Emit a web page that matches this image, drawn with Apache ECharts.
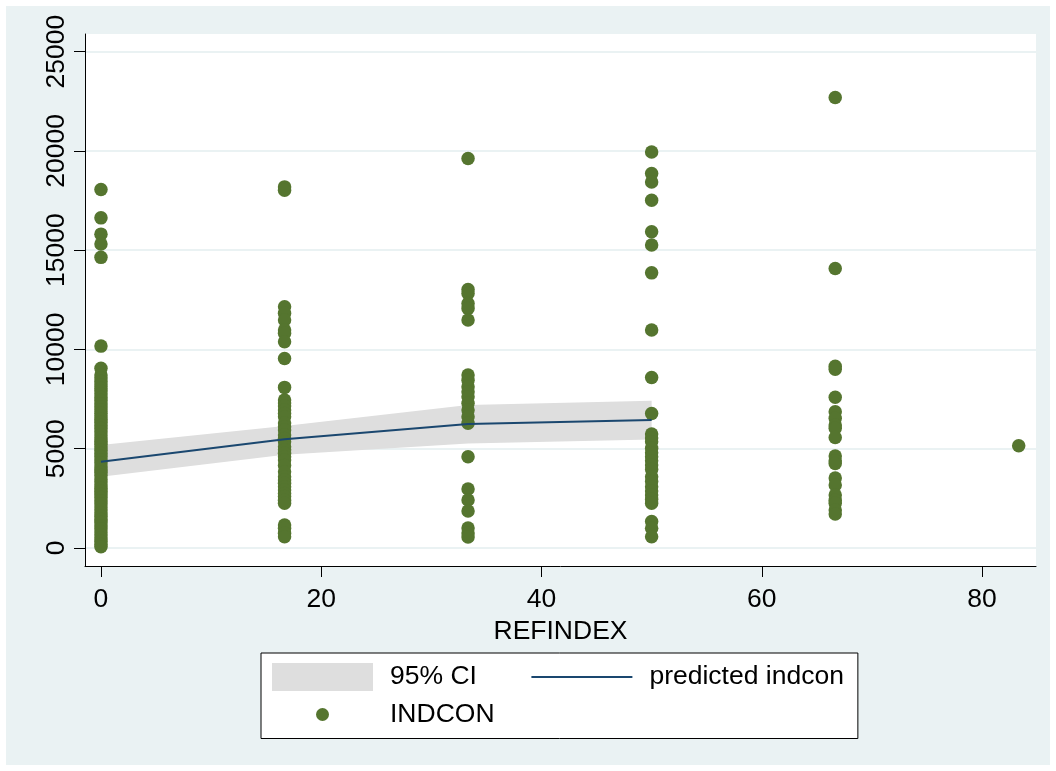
<!DOCTYPE html>
<html>
<head>
<meta charset="utf-8">
<script src="https://cdn.jsdelivr.net/npm/echarts@6/dist/echarts.min.js"></script>
<style>
  html, body { margin: 0; padding: 0; background: #fff; }
  #chart { position: absolute; left: 6px; top: 6px; width: 1044px; height: 759px; }
</style>
</head>
<body>
<div id="chart"></div>
<script>
// REFINDEX levels and the INDCON values observed at each level
const refLevels = [0, 16.67, 33.33, 50, 66.67, 83.33];
const indcon0 = [18060, 16630, 15810, 15310, 14640, 10170, 9050, 8710, 8560, 8390, 8220, 8040, 7910, 7760,
  7580, 7430, 7270, 7120, 6960, 6790, 6650, 6480, 6330, 6170, 6020, 5860, 5690, 5540, 5380, 5230, 5090,
  4920, 4760, 4610, 4450, 4290, 4130, 3960, 3810, 3650, 3480, 3330, 3170, 3010, 2860, 2700, 2540, 2380,
  2230, 2070, 1910, 1760, 1600, 1440, 1290, 1120, 970, 810, 650, 500, 340, 180, 60];
const indcon17 = [18190, 18020, 12150, 11830, 11480, 10980, 10820, 10390, 9550, 8090, 7450, 7300, 7150,
  6950, 6780, 6610, 6300, 6110, 5940, 5690, 5520, 5350, 5100, 4950, 4770, 4600, 4430, 4150, 3840, 3590,
  3420, 3260, 3090, 2920, 2750, 2590, 2400, 2250, 1160, 990, 740, 570];
const indcon33 = [19620, 13020, 12820, 12320, 12070, 11480, 8710, 8450, 8120, 7870, 7620, 7290, 6950,
  6610, 6280, 4600, 2970, 2420, 1860, 1010, 760, 560];
const indcon50 = [19950, 18860, 18440, 17520, 15930, 15260, 13860, 10980, 8590, 6780, 5740, 5540, 5350,
  5020, 4800, 4600, 4400, 4180, 3950, 3590, 3350, 3090, 2870, 2670, 2450, 2250, 1330, 1000, 570];
const indcon67 = [22690, 14080, 9150, 9000, 7590, 6860, 6530, 6200, 6030, 5570, 4630, 4400, 4260, 3520,
  3170, 2670, 2400, 2250, 1910, 1710];
const indcon83 = [5150];
const indconByLevel = [indcon0, indcon17, indcon33, indcon50, indcon67, indcon83];

// fitted values and 95% CI
const fitX = [0, 16.67, 33.33, 50];
const fitY = [4350, 5480, 6240, 6450];
const ciLow = [3590, 4700, 5270, 5470];
const ciHigh = [5190, 6150, 7200, 7420];

const xTicks = [0, 20, 40, 60, 80];
const yTicks = [0, 5000, 10000, 15000, 20000, 25000];

const scatterData = [];
refLevels.forEach(function (x, i) {
  indconByLevel[i].forEach(function (v) { scatterData.push([x, v]); });
});

const chart = echarts.init(document.getElementById('chart'));
const font = 'Liberation Sans, Arial, sans-serif';
const fs = 26.5;

// the CI band as one polygon: upper edge left to right, lower edge back
function renderBand(params, api) {
  if (params.dataIndexInside !== 0) return null;
  const n = params.dataInsideLength;
  const upper = [], lower = [];
  for (let i = 0; i < n; i++) {
    upper.push(api.coord([api.value(0, i), api.value(2, i)]));
    lower.unshift(api.coord([api.value(0, i), api.value(1, i)]));
  }
  return {
    type: 'polygon',
    shape: { points: upper.concat(lower) },
    style: { fill: '#DEDEDE' }
  };
}

const option = {
  backgroundColor: '#EAF2F3',
  animation: false,
  textStyle: { fontFamily: font },
  grid: { left: 79, top: 28, right: 14, bottom: 199, show: true, backgroundColor: '#fff', borderWidth: 0 },
  xAxis: {
    type: 'value', min: -1.45, max: 84.9,
    name: 'REFINDEX', nameLocation: 'middle', nameGap: 36,
    nameTextStyle: { fontSize: fs, color: '#000', fontFamily: font },
    axisLine: { show: true, onZero: false, lineStyle: { color: '#000', width: 1 } },
    axisTick: { show: true, customValues: xTicks, length: 11, lineStyle: { color: '#000' } },
    axisLabel: { customValues: xTicks, fontSize: fs, color: '#000', margin: 20, fontFamily: font,
      formatter: function (v) { return String(v); } },
    splitLine: { show: false }
  },
  yAxis: {
    type: 'value', min: -907, max: 25892,
    axisLine: { show: true, onZero: false, lineStyle: { color: '#000', width: 1 } },
    axisTick: { show: true, customValues: yTicks, length: 11, lineStyle: { color: '#000' } },
    axisLabel: { customValues: yTicks, rotate: 90, fontSize: fs, color: '#000', margin: 15, fontFamily: font,
      formatter: function (v) { return String(v); } },
    splitLine: { show: true, lineStyle: { color: '#EAF2F3', width: 2 } }
  },
  legend: {
    left: 255, top: 647, width: 590, orient: 'horizontal',
    padding: [10, 14, 10, 11],
    itemWidth: 101, itemHeight: 28, itemGap: 9.5,
    backgroundColor: '#fff', borderColor: '#000', borderWidth: 1, borderRadius: 0,
    selectedMode: false,
    textStyle: { fontSize: fs, color: '#000', fontFamily: font, padding: [0, 0, 0, 12] },
    data: [
      { name: '95% CI', icon: 'rect', itemStyle: { color: '#DEDEDE', borderWidth: 0 },
        textStyle: { padding: [0, 45, 0, 12], backgroundColor: 'rgba(255,255,255,0)' } },
      { name: 'predicted indcon', icon: 'path://M0,0M101,28M0,13L101,13L101,15L0,15Z',
        itemStyle: { color: '#1A476F', borderWidth: 0 } },
      { name: 'INDCON', icon: 'path://M0,0M101,28M44,14A6.5,6.5,0,1,1,57,14A6.5,6.5,0,1,1,44,14Z',
        itemStyle: { color: '#55752F', borderWidth: 0 } }
    ]
  },
  series: [
    {
      name: '95% CI', type: 'custom', silent: true,
      data: fitX.map(function (x, i) { return [x, ciLow[i], ciHigh[i]]; }),
      encode: { x: 0, y: [1, 2] },
      itemStyle: { color: '#DEDEDE' },
      renderItem: renderBand
    },
    {
      name: 'predicted indcon', type: 'line', symbol: 'none',
      data: fitX.map(function (x, i) { return [x, fitY[i]]; }),
      lineStyle: { color: '#1A476F', width: 2 },
      itemStyle: { color: '#1A476F' }
    },
    {
      name: 'INDCON', type: 'scatter', symbolSize: 13.5,
      data: scatterData,
      itemStyle: { color: '#55752F', opacity: 1 }
    }
  ]
};

chart.setOption(option);
</script>
</body>
</html>
